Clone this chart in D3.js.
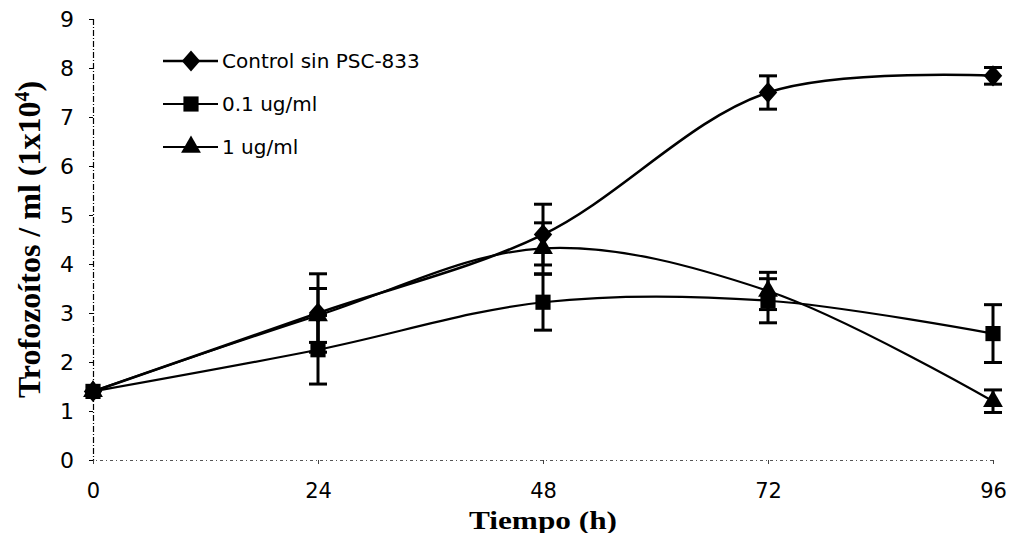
<!DOCTYPE html>
<html lang="en">
<head>
<meta charset="UTF-8">
<title>Trofozoitos</title>
<script src="https://d3js.org/d3.v7.min.js"></script>
<style>
  body { margin: 0; background: #fff; }
  .tick text { font-family: "DejaVu Sans", sans-serif; }
</style>
</head>
<body>
<div id="chart"></div>
<script>
// hours
var hours = [0, 24, 48, 72, 96];
var seriesNames = ["Control sin PSC-833", "0.1 ug/ml", "1 ug/ml"];
// means
var control = [1.4, 3.0, 4.6, 7.5, 7.84];
var dose01 = [1.4, 2.25, 3.22, 3.25, 2.58];
var dose1 = [1.4, 2.95, 4.32, 3.45, 1.2];
// error (+/-)
var controlErr = [0, 0.8, 0.62, 0.34, 0.17];
var dose01Err = [0, 0.7, 0.57, 0.45, 0.59];
var dose1Err = [0, 0.55, 0.52, 0.38, 0.23];
var yTicks = [0, 1, 2, 3, 4, 5, 6, 7, 8, 9];

var W = 1020, H = 533;
var margin = { top: 19, right: 27, bottom: 73, left: 93 },
    width = W - margin.left - margin.right,
    height = H - margin.top - margin.bottom;

var svg = d3.select("#chart").append("svg")
    .attr("width", W).attr("height", H)

var g = svg.append("g")
    .attr("transform", "translate(" + margin.left + "," + margin.top + ")");

var x = d3.scaleLinear().domain([0, 96]).range([0, width]);
var y = d3.scaleLinear().domain([0, 9]).range([height, 0]);

// axes
var yAxis = g.append("g")
    .call(d3.axisLeft(y).tickValues(yTicks).tickSize(4).tickPadding(15));
var xAxis = g.append("g")
    .attr("transform", "translate(0," + height + ")")
    .call(d3.axisBottom(x).tickValues(hours).tickSize(4).tickPadding(19));

yAxis.select(".domain").attr("stroke-dasharray", "6,2,1,2").attr("stroke-width", 1.2);
xAxis.select(".domain").attr("stroke-dasharray", "3,3,1,3").attr("stroke", "#555");
yAxis.selectAll(".tick text").style("font-size", "22px").attr("dy", "0.36em");
xAxis.selectAll(".tick text").style("font-size", "21px");
xAxis.selectAll(".tick line").attr("stroke", "#444");

// titles
svg.append("text")
    .attr("x", margin.left + x(48)).attr("y", 529)
    .attr("text-anchor", "middle")
    .attr("textLength", 148)
    .attr("lengthAdjust", "spacingAndGlyphs")
    .style("font-family", "Liberation Serif, serif")
    .style("font-weight", "bold")
    .style("font-size", "25px")
    .text("Tiempo (h)");

var yt = svg.append("text")
    .attr("transform", "translate(40," + (margin.top + height / 2) + ") rotate(-90)")
    .attr("text-anchor", "middle")
    .style("font-family", "Liberation Serif, serif")
    .style("font-weight", "bold")
    .style("font-size", "32px");
yt.append("tspan").text("Trofozoítos / ml (1x10");
yt.append("tspan").attr("dy", "-11").style("font-size", "20px").text("4");
yt.append("tspan").attr("dy", "11").text(")");

var series = [
  { name: seriesNames[0], values: control, err: controlErr, shape: "diamond", lw: 2.6 },
  { name: seriesNames[1], values: dose01, err: dose01Err, shape: "square", lw: 2.2 },
  { name: seriesNames[2], values: dose1, err: dose1Err, shape: "triangle", lw: 2.2 }
];

var symbols = {
  diamond: d3.symbol().type(d3.symbolDiamond).size(130),
  square: d3.symbol().type(d3.symbolSquare).size(230),
  triangle: d3.symbol().type(d3.symbolTriangle).size(170)
};

var line = d3.line()
    .x(function (d) { return x(d.t) })
    .y(function (d) { return y(d.v) })
    .curve(d3.curveCatmullRom.alpha(0.5));

series.forEach(function (s) {
  var pts = hours.map(function (h, i) { return { t: h, v: s.values[i], e: s.err[i] }; });

  g.append("path")
    .attr("d", line(pts))
    .attr("fill", "none")
    .attr("stroke", "#000")
    .attr("stroke-width", s.lw);

  var eb = g.append("g").attr("stroke", "#000").attr("stroke-width", 3);
  pts.filter(function (d) { return d.e > 0; }).forEach(function (d) {
    eb.append("line")
      .attr("x1", x(d.t)).attr("x2", x(d.t))
      .attr("y1", y(d.v - d.e)).attr("y2", y(d.v + d.e));
    [d.v - d.e, d.v + d.e].forEach(function (v) {
      eb.append("line")
        .attr("x1", x(d.t) - 9).attr("x2", x(d.t) + 9)
        .attr("y1", y(v)).attr("y2", y(v));
    });
  });

  g.selectAll(null)
    .data(pts)
    .enter()
    .append("path")
    .attr("d", symbols[s.shape])
    .attr("transform", function (d) {
      return "translate(" + x(d.t) + "," + y(d.v) + ")" + (s.shape == "diamond" ? " scale(1.5,1)" : "");
    })
    .attr("fill", "#000");
});

// legend
var legend = svg.append("g").attr("transform", "translate(163,61)");
series.forEach(function (s, i) {
  var row = legend.append("g").attr("transform", "translate(0," + (i * 43) + ")");
  row.append("line")
    .attr("x1", 0).attr("x2", 55).attr("y1", 0).attr("y2", 0)
    .attr("stroke", "#000").attr("stroke-width", s.lw);
  row.append("path")
    .attr("d", symbols[s.shape])
    .attr("transform", "translate(28,0)" + (s.shape == "diamond" ? " scale(1.5,1)" : ""))
    .attr("fill", "#000");
  row.append("text")
    .attr("x", 59).attr("y", 0).attr("dy", "0.35em")
    .style("font-family", "DejaVu Sans, sans-serif")
    .style("font-size", "20px")
    .text(s.name);
});
</script>
</body>
</html>
